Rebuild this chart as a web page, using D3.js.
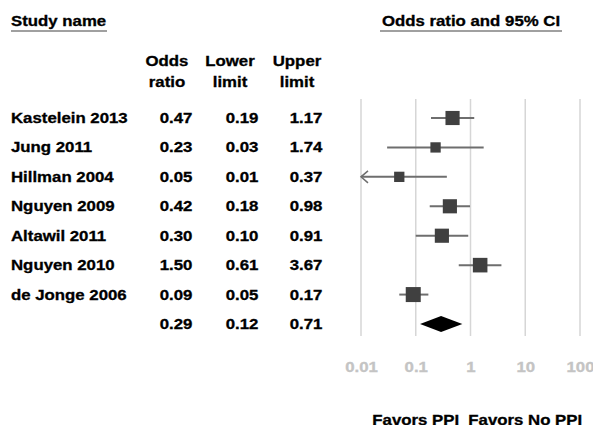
<!DOCTYPE html>
<html><head><meta charset="utf-8">
<script src="https://cdn.jsdelivr.net/npm/d3@7"></script>
<style>body{margin:0;background:#fff}svg{display:block}text{font-family:"Liberation Sans",Arial,sans-serif;font-weight:bold}</style>
</head><body><svg id="c" width="593" height="425"></svg>
<script>
const studies = ["Kastelein 2013","Jung 2011","Hillman 2004","Nguyen 2009","Altawil 2011","Nguyen 2010","de Jonge 2006"];
const oddsRatio = [0.47,0.23,0.05,0.42,0.30,1.50,0.09];
const lowerLimit = [0.19,0.03,0.01,0.18,0.10,0.61,0.05];
const upperLimit = [1.17,1.74,0.37,0.98,0.91,3.67,0.17];
const weights = [16,8.5,8.5,16,16,17,18];
const summary = {or:0.29, lower:0.12, upper:0.71};
const tickValues = [0.01,0.1,1,10,100];
const tickLabels = ["0.01","0.1","1","10","100"];

const svg = d3.select("#c");
const x = d3.scaleLog().domain([0.01,100]).range([361,580]);
const rowLabels = studies.concat([""]);
const y = d3.scalePoint().domain(d3.range(rowLabels.length)).range([118,324]);
const size = d3.scaleSqrt().domain([0,d3.max(weights)]).range([0,15]);
const fmt = d3.format(".2f");
const SX = 1.2;

function txt(px, py, s, anchor, fill){
  return svg.append("text")
    .attr("transform",`translate(${px},${py}) scale(${SX},1)`)
    .attr("dy","0.36em").attr("font-size",14)
    .attr("text-anchor",anchor||"start")
    .attr("fill",fill||"#000")
    .attr("stroke",fill||"#000").attr("stroke-width",0.3)
    .text(s);
}

// headers
txt(11,21,"Study name");
svg.append("line").attr("x1",11).attr("x2",107).attr("y1",31).attr("y2",31).attr("stroke","#a0a0a0").attr("stroke-width",2);
txt(471,21,"Odds ratio and 95% CI","middle");
svg.append("line").attr("x1",380).attr("x2",562).attr("y1",31).attr("y2",31).attr("stroke","#a0a0a0").attr("stroke-width",2);

const hdr = [["Odds","ratio",167],["Lower","limit",230],["Upper","limit",297]];
hdr.forEach(h=>{ txt(h[2],61,h[0],"middle"); txt(h[2],82,h[1],"middle"); });

// grid
svg.append("g").selectAll("line").data(tickValues).enter().append("line")
  .attr("x1",d=>x(d)).attr("x2",d=>x(d)).attr("y1",99).attr("y2",336)
  .attr("stroke","#d6d6d6").attr("stroke-width",1.5);

// axis labels
const axis = d3.axisBottom(x).tickValues(tickValues).tickFormat((d,i)=>tickLabels[i]).tickSize(0);
const ax = svg.append("g").attr("transform","translate(0,367)").call(axis);
ax.select(".domain").remove();
ax.selectAll("text").attr("font-size",14).attr("fill","#c4c4c4").attr("stroke","#c4c4c4").attr("stroke-width",0.3)
  .attr("font-family","Liberation Sans, Arial, sans-serif").attr("font-weight","bold")
  .attr("y",0).attr("dy","0.36em").attr("transform",`scale(${SX},1)`);

// rows text
const cols = [[oddsRatio,176],[lowerLimit,242],[upperLimit,306]];
studies.forEach((s,i)=>{
  txt(11,y(i),s);
  cols.forEach(c=>txt(c[1],y(i),fmt(c[0][i]),"middle"));
});
const si = studies.length;
[[summary.or,176],[summary.lower,242],[summary.upper,306]].forEach(c=>txt(c[1],y(si),fmt(c[0]),"middle"));

// CI lines
const minX = x.domain()[0];
studies.forEach((s,i)=>{
  const lo = Math.max(lowerLimit[i],minX);
  svg.append("line").attr("x1",x(lo)).attr("x2",x(upperLimit[i])).attr("y1",y(i)).attr("y2",y(i))
    .attr("stroke","#6e6e6e").attr("stroke-width",2);
  if(lowerLimit[i] <= minX){
    const ax0 = x(minX);
    svg.append("path").attr("d",`M${ax0+7},${y(i)-6}L${ax0},${y(i)}L${ax0+7},${y(i)+6}`)
      .attr("fill","none").attr("stroke","#6e6e6e").attr("stroke-width",1.5);
  }
  const sz = size(weights[i]);
  svg.append("rect").attr("x",x(oddsRatio[i])-sz/2).attr("y",y(i)-sz/2).attr("width",sz).attr("height",sz)
    .attr("fill","#404040");
});

// diamond
const yd = y(si);
svg.append("path").attr("d",`M${x(summary.lower)},${yd}L${x(summary.or)},${yd-8}L${x(summary.upper)},${yd}L${x(summary.or)},${yd+8}Z`).attr("fill","#000");

// favors
txt(x(0.1),420,"Favors PPI","middle");
txt(x(10),420,"Favors No PPI","middle");
</script></body></html>
